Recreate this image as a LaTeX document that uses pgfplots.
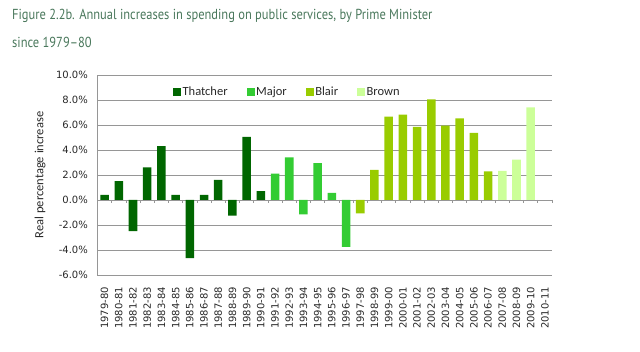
\documentclass[border=0pt]{standalone}
\usepackage{fontspec}
\usepackage{pgfplots}
\pgfplotsset{compat=1.18}
\newfontfamily\tickfont{DejaVu Sans}
\newfontfamily\labfont{Carlito}
\newfontfamily\titlefont[FakeStretch=0.86]{PT Sans}
\definecolor{thatcher}{RGB}{0,102,0}
\definecolor{major}{RGB}{51,204,51}
\definecolor{blair}{RGB}{153,204,0}
\definecolor{brown}{RGB}{204,255,153}
\definecolor{titlecol}{RGB}{74,120,92}
\definecolor{gridcol}{RGB}{150,150,150}
\definecolor{txtcol}{RGB}{40,40,40}
\pgfplotsset{sqlegend/.style={legend image code/.code={\fill[##1] (0bp,-4bp) rectangle (8bp,4bp);}}}
\begin{document}
\begin{tikzpicture}
\useasboundingbox (0,0) rectangle (640bp,352bp);
\node[anchor=north west, inner sep=0pt, align=left, text=titlecol,
      font=\titlefont\fontsize{14.5bp}{28bp}\selectfont] at (12bp,343bp)
  {Figure 2.2b. Annual increases in spending on public services, by Prime Minister\\since 1979–80};
\begin{axis}[
  at={(97.5bp,77bp)}, anchor=south west,
  scale only axis, width=454.5bp, height=200bp,
  xmin=-0.5, xmax=31.5, ymin=-6, ymax=10,
  ytick={-6,-4,...,10},
  xtick={0,...,31},
  xticklabels={1979-80,1980-81,1981-82,1982-83,1983-84,1984-85,1985-86,1986-87,1987-88,1988-89,1989-90,1990-91,1991-92,1992-93,1993-94,1994-95,1995-96,1996-97,1997-98,1998-99,1999-00,2000-01,2001-02,2002-03,2003-04,2004-05,2005-06,2006-07,2007-08,2008-09,2009-10,2010-11},
  /pgf/number format/assume math mode=true,
  yticklabel={\pgfmathprintnumber[fixed,fixed zerofill,precision=1]{\tick}\%},
  tick label style={font=\tickfont\fontsize{10bp}{12bp}\selectfont, text=txtcol},
  xticklabel style={yshift=-12bp, rotate=90, anchor=east, inner sep=0pt},
  yticklabel style={anchor=east, inner sep=0pt, xshift=-9.5bp},
  major tick length=0pt,
  ymajorgrids, grid style={gridcol, line width=0.8bp},
  axis line style={gridcol, line width=0.8bp},
  axis x line*=bottom, x axis line style={draw=none},
  axis y line*=left,
  ylabel={Real percentage increase},
  every axis y label/.style={at={(axis description cs:0,0.5)}, xshift=-57.5bp, rotate=90, anchor=center,
    font=\labfont\fontsize{12.5bp}{14bp}\selectfont, text=txtcol},
  legend columns=4,
  legend style={at={(axis description cs:0.166,0.915)}, anchor=west, draw=none, fill=none, inner sep=0pt,
    font=\labfont\fontsize{12.5bp}{14bp}\selectfont, text=txtcol,
    /tikz/every even column/.append style={column sep=17.5bp},
    nodes={inner sep=1.5bp}},
  clip=false,
]
\addplot[gridcol, line width=0.8bp, only marks, mark=|, mark size=1.5bp, forget plot]
  coordinates {(-0.5,-0.12)(0.5,-0.12)(1.5,-0.12)(2.5,-0.12)(3.5,-0.12)(4.5,-0.12)(5.5,-0.12)(6.5,-0.12)(7.5,-0.12)(8.5,-0.12)(9.5,-0.12)(10.5,-0.12)(11.5,-0.12)(12.5,-0.12)(13.5,-0.12)(14.5,-0.12)(15.5,-0.12)(16.5,-0.12)(17.5,-0.12)(18.5,-0.12)(19.5,-0.12)(20.5,-0.12)(21.5,-0.12)(22.5,-0.12)(23.5,-0.12)(24.5,-0.12)(25.5,-0.12)(26.5,-0.12)(27.5,-0.12)(28.5,-0.12)(29.5,-0.12)(30.5,-0.12)(31.5,-0.12)};
\addplot[ybar, bar width=0.6, bar shift=0pt, fill=thatcher, draw=none, sqlegend]
  coordinates {(0,0.4)(1,1.5)(2,-2.5)(3,2.6)(4,4.3)(5,0.4)(6,-4.65)(7,0.4)(8,1.6)(9,-1.25)(10,5.05)(11,0.7)};
\addlegendentry{Thatcher}
\addplot[ybar, bar width=0.6, bar shift=0pt, fill=major, draw=none, sqlegend]
  coordinates {(12,2.1)(13,3.4)(14,-1.15)(15,2.95)(16,0.57)(17,-3.76)};
\addlegendentry{Major}
\addplot[ybar, bar width=0.6, bar shift=0pt, fill=blair, draw=none, sqlegend]
  coordinates {(18,-1.07)(19,2.4)(20,6.67)(21,6.83)(22,5.84)(23,8.05)(24,5.95)(25,6.53)(26,5.36)(27,2.29)};
\addlegendentry{Blair}
\addplot[ybar, bar width=0.6, bar shift=0pt, fill=brown, draw=none, sqlegend]
  coordinates {(28,2.32)(29,3.23)(30,7.41)};
\addlegendentry{Brown}
\end{axis}
\end{tikzpicture}
\end{document}
